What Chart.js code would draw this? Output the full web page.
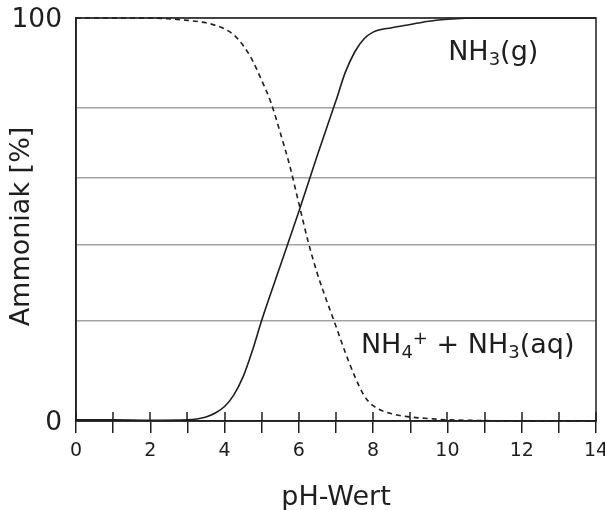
<!DOCTYPE html>
<html><head><meta charset="utf-8">
<script src="https://cdn.jsdelivr.net/npm/chart.js@4/dist/chart.umd.min.js"></script>
<style>html,body{margin:0;padding:0;background:#fff}#wrap{width:605px;height:510px}</style>
</head><body><div id="wrap"><canvas id="c" width="605" height="510"></canvas></div>
<script>
// ---- data ----
const phGas = [0, 1, 2, 3, 3.25, 3.5, 3.75, 4, 4.25, 4.5, 4.75, 5, 5.5, 6, 6.5, 7, 7.25, 7.5, 7.75, 8, 8.5, 9, 9.5, 10, 11, 12, 13, 14];
const nh3Gas = [0.3, 0.3, 0.2, 0.3, 0.5, 1.0, 2.0, 3.6, 6.5, 11, 17.5, 25, 38.5, 52, 66, 79.5, 86.5, 91.5, 94.8, 96.5, 97.6, 98.4, 99.2, 99.7, 100, 100, 100, 100];
const phAq = [0, 1, 2, 2.5, 3, 3.5, 3.75, 4, 4.25, 4.5, 4.75, 5, 5.25, 5.5, 5.75, 6, 6.25, 6.5, 6.75, 7, 7.25, 7.5, 7.75, 8, 8.5, 9, 9.5, 10, 11, 12, 13, 14];
const nh4Aq = [100, 100, 100, 99.8, 99.4, 98.8, 98.2, 97.3, 95.8, 93.2, 89.5, 84.5, 79, 71.5, 63.5, 54, 44.5, 36.5, 29.8, 23.5, 17, 11.2, 6.4, 3.8, 1.8, 1.0, 0.6, 0.3, 0.1, 0, 0, 0];
const yGridValues = [0, 24.9, 43.7, 60.3, 77.7, 100];
const yTickLabels = ['0', '100'];
const xLabelStep = 2;
const xTitle = 'pH-Wert';
const yTitle = 'Ammoniak [%]';

const FONT = 'DejaVu Sans';
const INK = '#1e1e1e';

const toPoints = (xs, ys) => xs.map((x, i) => ({x: x, y: ys[i]}));

const decorPlugin = {
  id: 'decor',
  afterDatasetsDraw(chart) {
    const {ctx, chartArea: a, scales: {x, y}} = chart;
    ctx.save();
    // inward part of x ticks
    ctx.strokeStyle = INK; ctx.lineWidth = 1.5;
    x.ticks.forEach(t => {
      const px = Math.round(x.getPixelForValue(t.value));
      ctx.beginPath(); ctx.moveTo(px, a.bottom); ctx.lineTo(px, a.bottom - 9); ctx.stroke();
    });
    // frame
    ctx.strokeRect(a.left, a.top, a.right - a.left, a.bottom - a.top);
    // y axis title
    ctx.save();
    ctx.translate(22, (a.top + a.bottom) / 2 + 7);
    ctx.rotate(-Math.PI / 2);
    ctx.font = '27px "' + FONT + '"';
    ctx.fillStyle = INK; ctx.textAlign = 'center'; ctx.textBaseline = 'middle';
    ctx.fillText(yTitle, 0, 0);
    ctx.restore();
    // curve labels
    const drawRich = (parts, px, py) => {
      let cx = px;
      ctx.textAlign = 'left';
      parts.forEach(p => {
        ctx.font = p.size + 'px "' + FONT + '"';
        ctx.fillStyle = INK;
        ctx.textBaseline = 'alphabetic';
        ctx.fillText(p.t, cx, py + (p.dy || 0));
        cx += ctx.measureText(p.t).width;
      });
    };
    const big = 27, small = 18;
    drawRich([{t:'NH', size:big}, {t:'3', size:small, dy:5}, {t:'(g)', size:big}],
      x.getPixelForValue(10.02), y.getPixelForValue(89.6));
    drawRich([{t:'NH', size:big}, {t:'4', size:small, dy:5}, {t:'+', size:small, dy:-9},
              {t:' + NH', size:big}, {t:'3', size:small, dy:5}, {t:'(aq)', size:big}],
      x.getPixelForValue(7.67), y.getPixelForValue(16.9));
    ctx.restore();
  }
};

new Chart(document.getElementById('c'), {
  type: 'line',
  data: {
    datasets: [
      {label: 'NH3(g)', data: toPoints(phGas, nh3Gas), borderColor: INK, borderWidth: 1.6,
       pointRadius: 0, cubicInterpolationMode: 'monotone', fill: false, clip: 4},
      {label: 'NH4+ + NH3(aq)', data: toPoints(phAq, nh4Aq), borderColor: INK, borderWidth: 1.6,
       borderDash: [5, 4], pointRadius: 0, cubicInterpolationMode: 'monotone', fill: false, clip: 4}
    ]
  },
  options: {
    responsive: false, animation: false, devicePixelRatio: 1,
    layout: {padding: {left: 0, right: 9, top: 18, bottom: 0}},
    plugins: {legend: {display: false}, tooltip: {enabled: false}},
    scales: {
      x: {
        type: 'linear', min: 0, max: 14,
        ticks: {stepSize: 1, autoSkip: false, maxRotation: 0, padding: 7, color: INK,
          font: {family: FONT, size: 19},
          callback: v => (v % xLabelStep === 0 ? String(v) : '')},
        grid: {drawOnChartArea: false, drawTicks: true, tickLength: 12, color: INK, lineWidth: 1.5},
        border: {display: true, color: INK, width: 1.5},
        title: {display: true, text: xTitle, color: INK, font: {family: FONT, size: 27, lineHeight: 0.9}, padding: {top: 0, bottom: 0}},
        afterFit(s) { s.height = 89; s.paddingLeft = 0; s.paddingRight = 0; }
      },
      y: {
        type: 'linear', min: 0, max: 100,
        afterBuildTicks(s) { s.ticks = yGridValues.map(v => ({value: v})); },
        ticks: {autoSkip: false, padding: 14, labelOffset: 2, color: INK, font: {family: FONT, size: 26.5},
          callback: v => (yTickLabels.includes(String(v)) ? String(v) : '')},
        grid: {drawTicks: false, color: '#a3a3a3', lineWidth: 1.5},
        border: {display: true, color: INK, width: 1.5},
        title: {display: false},
        afterFit(s) { s.width = 76; s.paddingTop = 0; s.paddingBottom = 0; }
      }
    }
  },
  plugins: [decorPlugin]
});
</script></body></html>
